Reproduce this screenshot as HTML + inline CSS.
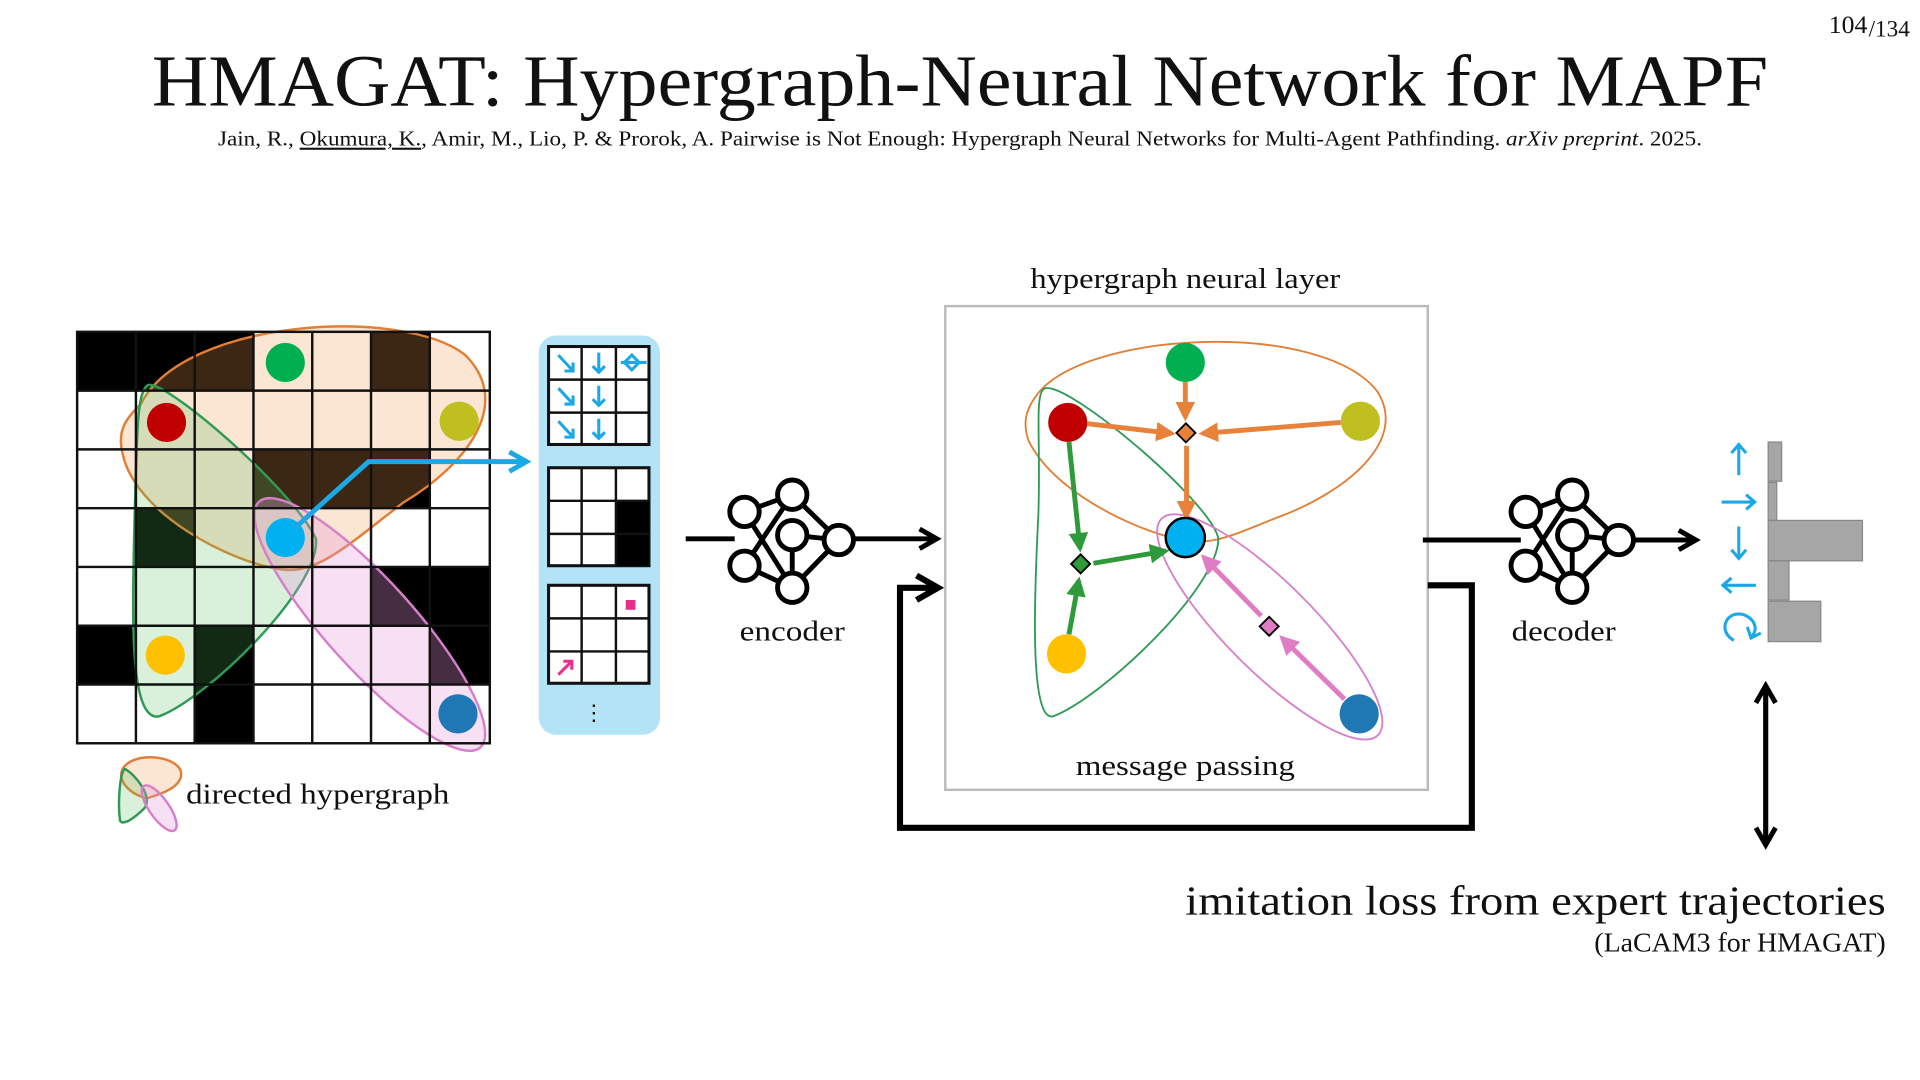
<!DOCTYPE html>
<html><head><meta charset="utf-8"><style>
html,body{margin:0;padding:0;background:#fff;}
svg{display:block;}
text{font-family:"Liberation Serif","DejaVu Serif",serif;fill:#111;}
</style></head><body>
<svg width="1920" height="1080" viewBox="0 0 1568 882" xmlns="http://www.w3.org/2000/svg">
<defs>
<marker id="ab" viewBox="0 0 10 10" refX="8" refY="5" markerWidth="5" markerHeight="5" orient="auto"><path d="M1,1 L8,5 L1,9" fill="none" stroke="#000" stroke-width="2"/></marker>
<marker id="abl" viewBox="0 0 10 10" refX="8" refY="5" markerWidth="5" markerHeight="5" orient="auto"><path d="M1,1 L8,5 L1,9" fill="none" stroke="#1aa8e6" stroke-width="2"/></marker>
<marker id="ao" viewBox="0 0 10 10" refX="8" refY="5" markerWidth="4" markerHeight="4" orient="auto"><path d="M0,0 L10,5 L0,10 z" fill="#e8823a"/></marker>
<marker id="ag" viewBox="0 0 10 10" refX="8" refY="5" markerWidth="4" markerHeight="4" orient="auto"><path d="M0,0 L10,5 L0,10 z" fill="#2e9a3a"/></marker>
<marker id="ap" viewBox="0 0 10 10" refX="8" refY="5" markerWidth="4" markerHeight="4" orient="auto"><path d="M0,0 L10,5 L0,10 z" fill="#e07cc4"/></marker>
</defs>

<text x="1525" y="27" font-size="21" text-anchor="end">104</text><text x="1526" y="30" font-size="19">/134</text>
<text x="784" y="86" font-size="60" text-anchor="middle" textLength="1320" lengthAdjust="spacingAndGlyphs">HMAGAT: Hypergraph-Neural Network for MAPF</text>
<text x="784" y="119" font-size="17" text-anchor="middle" textLength="1212" lengthAdjust="spacingAndGlyphs">Jain, R., <tspan text-decoration="underline">Okumura, K.</tspan>, Amir, M., Lio, P. &amp; Prorok, A. Pairwise is Not Enough: Hypergraph Neural Networks for Multi-Agent Pathfinding. <tspan font-style="italic">arXiv preprint</tspan>. 2025.</text>

<!-- grid -->
<g>
<rect x="63" y="271" width="337" height="336" fill="#fff"/>
<g fill="#000">
<rect x="63" y="271" width="144" height="48"/><rect x="303" y="271" width="48" height="48"/>
<rect x="207" y="367" width="144" height="48"/>
<rect x="111" y="415" width="48" height="48"/>
<rect x="303" y="463" width="97" height="48"/>
<rect x="63" y="511" width="48" height="48"/><rect x="159" y="511" width="48" height="48"/><rect x="351" y="511" width="49" height="48"/>
<rect x="159" y="559" width="48" height="48"/>
</g>
<path d="M115,330 C150,260 330,250 380,290 C420,330 380,380 330,410 C290,440 260,470 230,465 C190,460 110,420 100,370 C95,350 105,340 115,330 Z" fill="rgba(240,150,80,0.25)" stroke="#e07f35" stroke-width="2"/>
<path d="M120,315 C130,305 240,400 258,440 C262,480 170,570 130,585 C105,590 108,500 110,420 C112,350 112,322 120,315 Z" fill="rgba(80,190,90,0.22)" stroke="#2e9a55" stroke-width="2"/>
<ellipse cx="302" cy="510" rx="135" ry="36" transform="rotate(48 302 510)" fill="rgba(230,150,220,0.3)" stroke="#d77fc9" stroke-width="2"/>
<g stroke="#111" stroke-width="2">
<line x1="111" y1="271" x2="111" y2="607"/><line x1="159" y1="271" x2="159" y2="607"/><line x1="207" y1="271" x2="207" y2="607"/><line x1="255" y1="271" x2="255" y2="607"/><line x1="303" y1="271" x2="303" y2="607"/><line x1="351" y1="271" x2="351" y2="607"/>
<line x1="63" y1="319" x2="400" y2="319"/><line x1="63" y1="367" x2="400" y2="367"/><line x1="63" y1="415" x2="400" y2="415"/><line x1="63" y1="463" x2="400" y2="463"/><line x1="63" y1="511" x2="400" y2="511"/><line x1="63" y1="559" x2="400" y2="559"/>
<rect x="63" y="271" width="337" height="336" fill="none"/>
</g>
<circle cx="233" cy="296" r="16" fill="#00b050"/>
<circle cx="136" cy="345" r="16" fill="#c00000"/>
<circle cx="375" cy="344" r="16" fill="#bfbf20"/>
<circle cx="233" cy="439" r="16" fill="#00b0f0"/>
<circle cx="135" cy="535" r="16" fill="#ffc000"/>
<circle cx="374" cy="583" r="16" fill="#1f77b4"/>
<polyline points="240,432 301,377 430,377" fill="none" stroke="#1aa8e6" stroke-width="4" marker-end="url(#abl)"/>
</g>

<!-- legend -->
<path d="M100,628 C110,612 148,618 148,632 C148,645 125,650 120,652 C110,650 95,640 100,628Z" fill="rgba(240,150,80,0.25)" stroke="#e07f35" stroke-width="2"/>
<path d="M102,628 C110,632 125,650 118,660 C110,668 100,675 98,670 C96,655 98,630 102,628Z" fill="rgba(80,190,90,0.22)" stroke="#2e9a55" stroke-width="2"/>
<ellipse cx="130" cy="660" rx="22" ry="8" transform="rotate(55 130 660)" fill="rgba(230,150,220,0.3)" stroke="#d77fc9" stroke-width="2"/>
<text x="152" y="656" font-size="23" textLength="215" lengthAdjust="spacingAndGlyphs">directed hypergraph</text>

<!-- obs panel -->
<rect x="440" y="274" width="99" height="326" rx="14" fill="#b3e3f6"/>
<g fill="#fff" stroke="#111" stroke-width="2.5">
<rect x="448" y="283" width="82" height="80"/><rect x="448" y="382" width="82" height="80"/><rect x="448" y="478" width="82" height="80"/>
</g>
<rect x="503" y="409" width="27" height="53" fill="#000"/>
<g stroke="#111" stroke-width="2">
<line x1="475" y1="283" x2="475" y2="363"/><line x1="503" y1="283" x2="503" y2="363"/><line x1="448" y1="310" x2="530" y2="310"/><line x1="448" y1="337" x2="530" y2="337"/>
<line x1="475" y1="382" x2="475" y2="462"/><line x1="503" y1="382" x2="503" y2="462"/><line x1="448" y1="409" x2="530" y2="409"/><line x1="448" y1="436" x2="530" y2="436"/>
<line x1="475" y1="478" x2="475" y2="558"/><line x1="503" y1="478" x2="503" y2="558"/><line x1="448" y1="505" x2="530" y2="505"/><line x1="448" y1="532" x2="530" y2="532"/>
</g>
<g stroke="#1aa8e6" stroke-width="2.5" fill="none">
<path d="M456,290 L468,303 M461,303 L468,303 L468,296"/><path d="M456,317 L468,330 M461,330 L468,330 L468,323"/><path d="M456,344 L468,357 M461,357 L468,357 L468,350"/>
<path d="M489,288 L489,304 M484,299 L489,304 L494,299"/><path d="M489,315 L489,331 M484,326 L489,331 L494,326"/><path d="M489,342 L489,358 M484,353 L489,358 L494,353"/>
<path d="M507,296 L528,296 M510,296 L516,290 L522,296 L516,302 Z"/>
</g>
<rect x="511" y="490" width="8" height="8" fill="#e8308a"/>
<path d="M456,551 L467,540 M460,540 L467,540 L467,547" stroke="#e8308a" stroke-width="2.5" fill="none"/>
<text x="485" y="588" font-size="18" text-anchor="middle">⋮</text>

<!-- encoder -->
<g stroke="#000" stroke-width="4" fill="#fff">
<line x1="560" y1="440" x2="600" y2="440" />
<line x1="608" y1="418" x2="647" y2="404"/><line x1="608" y1="418" x2="647" y2="480"/><line x1="608" y1="462" x2="647" y2="404"/><line x1="608" y1="462" x2="647" y2="480"/><line x1="647" y1="404" x2="685" y2="441"/><line x1="647" y1="437" x2="685" y2="441"/><line x1="647" y1="437" x2="647" y2="480"/><line x1="647" y1="480" x2="685" y2="441"/>
<circle cx="608" cy="418" r="12"/><circle cx="608" cy="462" r="12"/><circle cx="647" cy="404" r="12"/><circle cx="647" cy="437" r="12"/><circle cx="647" cy="480" r="12"/><circle cx="685" cy="441" r="12"/>
</g>
<line x1="697" y1="440" x2="765" y2="440" stroke="#000" stroke-width="4" marker-end="url(#ab)"/>
<text x="647" y="523" font-size="23" text-anchor="middle" textLength="86" lengthAdjust="spacingAndGlyphs">encoder</text>

<!-- layer box -->
<text x="968" y="235" font-size="23" text-anchor="middle" textLength="253" lengthAdjust="spacingAndGlyphs">hypergraph neural layer</text>
<rect x="772" y="250" width="394" height="395" fill="#fff" stroke="#bbb" stroke-width="2"/>
<path d="M845,325 C880,270 1080,260 1125,320 C1150,360 1100,400 1050,420 C1010,435 990,448 960,440 C920,430 860,400 840,360 C835,345 838,335 845,325Z" fill="none" stroke="#e07f35" stroke-width="1.5"/>
<path d="M852,318 C865,305 990,410 995,440 C995,480 900,570 860,585 C840,590 845,480 848,420 C850,360 845,325 852,318Z" fill="none" stroke="#2e9a55" stroke-width="1.5"/>
<ellipse cx="1037" cy="512" rx="125" ry="36" transform="rotate(45 1037 512)" fill="none" stroke="#d77fc9" stroke-width="1.5"/>
<g stroke-width="4">
<line x1="968" y1="312" x2="968" y2="341" stroke="#e8823a" marker-end="url(#ao)"/>
<line x1="888" y1="346" x2="957" y2="354" stroke="#e8823a" marker-end="url(#ao)"/>
<line x1="1095" y1="345" x2="982" y2="354" stroke="#e8823a" marker-end="url(#ao)"/>
<line x1="969" y1="364" x2="969" y2="422" stroke="#e8823a" marker-end="url(#ao)"/>
<line x1="873" y1="361" x2="882" y2="448" stroke="#2e9a3a" marker-end="url(#ag)"/>
<line x1="873" y1="518" x2="881" y2="474" stroke="#2e9a3a" marker-end="url(#ag)"/>
<line x1="893" y1="460" x2="952" y2="450" stroke="#2e9a3a" marker-end="url(#ag)"/>
<line x1="1098" y1="571" x2="1047" y2="521" stroke="#e07cc4" marker-end="url(#ap)"/>
<line x1="1030" y1="503" x2="983" y2="455" stroke="#e07cc4" marker-end="url(#ap)"/>
</g>
<circle cx="968" cy="296" r="16" fill="#00b050"/>
<circle cx="872" cy="345" r="16" fill="#c00000"/>
<circle cx="1111" cy="344" r="16" fill="#bfbf20"/>
<circle cx="968" cy="439" r="16" fill="#00b0f0" stroke="#000" stroke-width="2"/>
<circle cx="871" cy="534" r="16" fill="#ffc000"/>
<circle cx="1110" cy="583" r="16" fill="#1f77b4"/>
<rect x="963" y="348" width="11" height="11" transform="rotate(45 968.5 353.5)" fill="#e8823a" stroke="#000" stroke-width="1.5"/>
<rect x="877" y="455" width="11" height="11" transform="rotate(45 882.5 460.5)" fill="#2e9a3a" stroke="#000" stroke-width="1.5"/>
<rect x="1031" y="506" width="11" height="11" transform="rotate(45 1036.5 511.5)" fill="#e07cc4" stroke="#000" stroke-width="1.5"/>
<text x="968" y="633" font-size="23" text-anchor="middle" textLength="179" lengthAdjust="spacingAndGlyphs">message passing</text>

<!-- loop -->
<polyline points="1166,478 1202,478 1202,676 735,676 735,480 766,480" fill="none" stroke="#000" stroke-width="5" marker-end="url(#ab)"/>

<!-- decoder -->
<line x1="1162" y1="441" x2="1242" y2="441" stroke="#000" stroke-width="4"/>
<g stroke="#000" stroke-width="4" fill="#fff">
<line x1="1246" y1="418" x2="1284" y2="404"/><line x1="1246" y1="418" x2="1284" y2="480"/><line x1="1246" y1="462" x2="1284" y2="404"/><line x1="1246" y1="462" x2="1284" y2="480"/><line x1="1284" y1="404" x2="1322" y2="441"/><line x1="1284" y1="437" x2="1322" y2="441"/><line x1="1284" y1="437" x2="1284" y2="480"/><line x1="1284" y1="480" x2="1322" y2="441"/>
<circle cx="1246" cy="418" r="12"/><circle cx="1246" cy="462" r="12"/><circle cx="1284" cy="404" r="12"/><circle cx="1284" cy="437" r="12"/><circle cx="1284" cy="480" r="12"/><circle cx="1322" cy="441" r="12"/>
</g>
<line x1="1334" y1="441" x2="1385" y2="441" stroke="#000" stroke-width="4" marker-end="url(#ab)"/>
<text x="1277" y="523" font-size="23" text-anchor="middle" textLength="85" lengthAdjust="spacingAndGlyphs">decoder</text>

<!-- policy -->
<g stroke="#1aa8e6" stroke-width="2.5" fill="none">
<path d="M1420,388 L1420,363 M1414,370 L1420,363 L1426,370"/>
<path d="M1406,410 L1433,410 M1426,404 L1433,410 L1426,416"/>
<path d="M1420,430 L1420,456 M1414,449 L1420,456 L1426,449"/>
<path d="M1434,478 L1407,478 M1414,472 L1407,478 L1414,484"/>
<path d="M1416,523 C1402,515 1410,498 1424,502 C1434,506 1436,515 1430,520 M1427,512 L1430,521 L1438,517"/>
</g>
<g fill="#a6a6a6" stroke="#888" stroke-width="1">
<rect x="1444" y="361" width="11" height="32"/><rect x="1444" y="394" width="7" height="31"/><rect x="1444" y="425" width="77" height="33"/><rect x="1444" y="458" width="17" height="32"/><rect x="1444" y="491" width="43" height="33"/>
</g>
<line x1="1442" y1="560" x2="1442" y2="690" stroke="#000" stroke-width="4" marker-end="url(#ab)"/>
<line x1="1442" y1="690" x2="1442" y2="560" stroke="#000" stroke-width="4" marker-end="url(#ab)"/>

<text x="1540" y="747" font-size="34" text-anchor="end" textLength="572" lengthAdjust="spacingAndGlyphs">imitation loss from expert trajectories</text>
<text x="1540" y="777" font-size="22" text-anchor="end" textLength="238" lengthAdjust="spacingAndGlyphs">(LaCAM3 for HMAGAT)</text>
</svg>
</body></html>
